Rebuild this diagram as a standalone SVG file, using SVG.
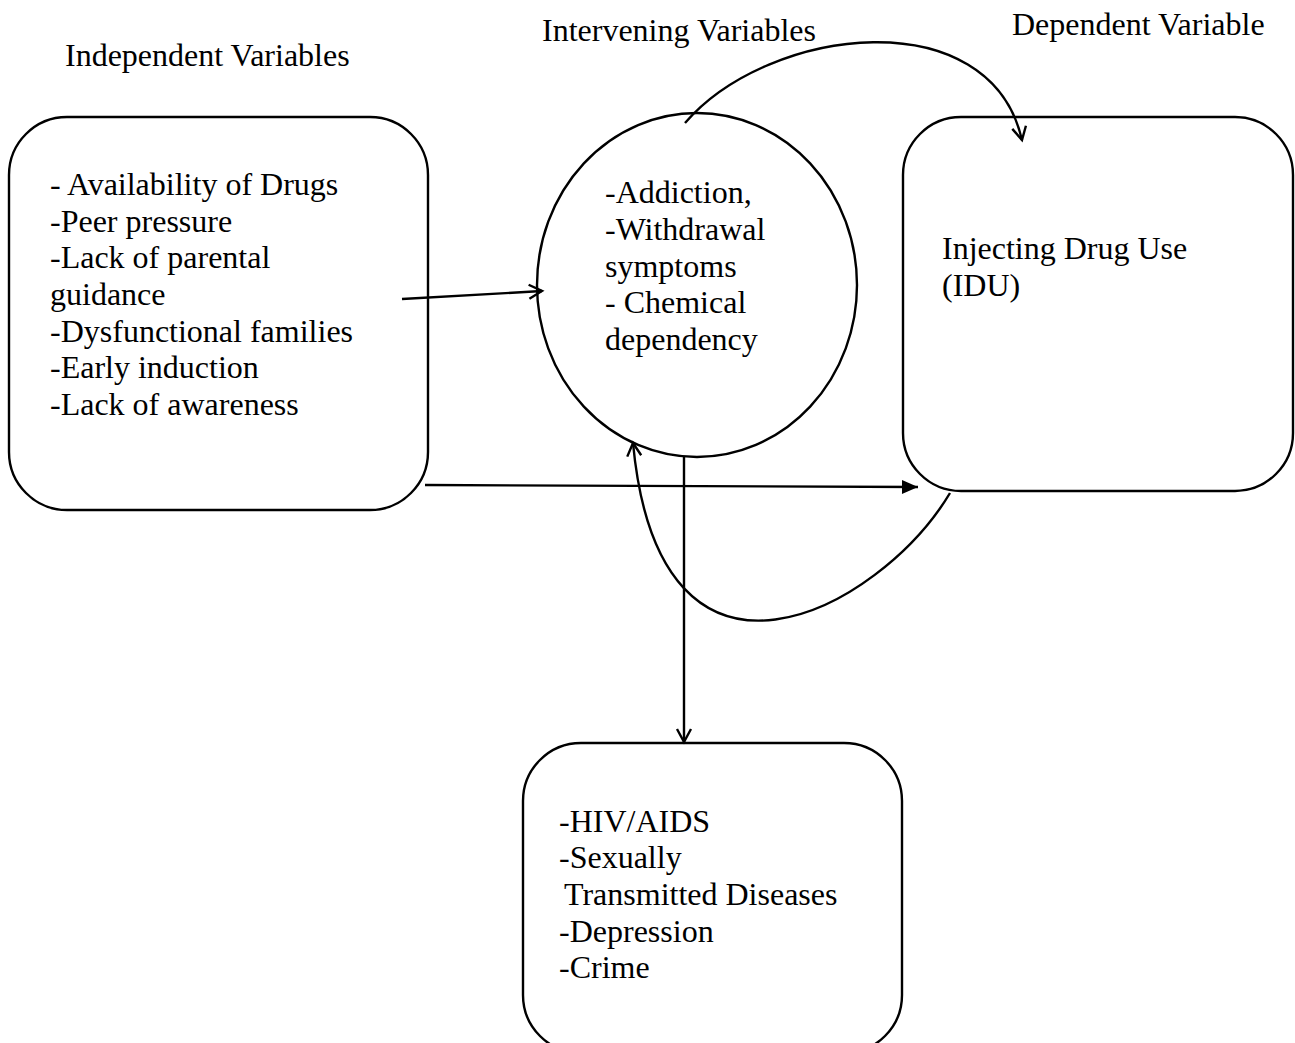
<svg xmlns="http://www.w3.org/2000/svg" width="1295" height="1043" viewBox="0 0 1295 1043">
<style>
  .t { font-family: "Liberation Serif", "Times New Roman", serif; font-size: 32px; fill: #000; }
  .box { fill: #fff; stroke: #000; stroke-width: 2.4; }
  .c { fill: none; stroke: #000; stroke-width: 2.4; }
</style>
<defs>
  <marker id="open" markerUnits="userSpaceOnUse" markerWidth="24" markerHeight="24" viewBox="-16 -12 20 24" refX="0" refY="0" orient="auto" overflow="visible">
    <path d="M-13,-7 L0,0 L-13,7" fill="none" stroke="#000" stroke-width="2.4"/>
  </marker>
  <marker id="filled" markerUnits="userSpaceOnUse" markerWidth="24" markerHeight="24" viewBox="-18 -12 20 24" refX="0" refY="0" orient="auto" overflow="visible">
    <path d="M-16,-7 L0,0 L-16,7 Z" fill="#000"/>
  </marker>
</defs>
<rect width="1295" height="1043" fill="#fff"/>

<g id="headers">
  <text class="t" x="65" y="66">Independent Variables</text>
  <text class="t" x="542" y="41">Intervening Variables</text>
  <text class="t" x="1012" y="35">Dependent Variable</text>
</g>

<g id="independent">
  <rect class="box" x="9" y="117" width="419" height="393" rx="58" ry="58"/>
  <text class="t" x="50" y="195">- Availability of Drugs</text>
  <text class="t" x="50" y="232">-Peer pressure</text>
  <text class="t" x="50" y="268">-Lack of parental</text>
  <text class="t" x="50" y="305">guidance</text>
  <text class="t" x="50" y="342">-Dysfunctional families</text>
  <text class="t" x="50" y="378">-Early induction</text>
  <text class="t" x="50" y="415">-Lack of awareness</text>
</g>

<g id="intervening">
  <ellipse class="box" cx="697" cy="285" rx="160" ry="172"/>
  <text class="t" x="605" y="203">-Addiction,</text>
  <text class="t" x="605" y="240">-Withdrawal</text>
  <text class="t" x="605" y="277">symptoms</text>
  <text class="t" x="605" y="313">- Chemical</text>
  <text class="t" x="605" y="350">dependency</text>
</g>

<g id="dependent">
  <rect class="box" x="903" y="117" width="390" height="374" rx="58" ry="58"/>
  <text class="t" x="942" y="259">Injecting Drug Use</text>
  <text class="t" x="942" y="296">(IDU)</text>
</g>

<g id="outcomes">
  <rect class="box" x="523" y="743" width="379" height="310" rx="58" ry="58"/>
  <text class="t" x="559" y="832">-HIV/AIDS</text>
  <text class="t" x="559" y="868">-Sexually</text>
  <text class="t" x="564" y="905">Transmitted Diseases</text>
  <text class="t" x="559" y="942">-Depression</text>
  <text class="t" x="559" y="978">-Crime</text>
</g>

<g id="connectors">
  <path class="c" d="M685,123 C770,25 990,0 1022,140" marker-end="url(#open)"/>
  <path class="c" d="M402,299 L542,291" marker-end="url(#open)"/>
  <path class="c" d="M425,485 L918,487" marker-end="url(#filled)"/>
  <path class="c" d="M684,457 L684,742" marker-end="url(#open)"/>
  <path class="c" d="M950,493 C880,610 660,730 633,443" marker-end="url(#open)"/>
</g>
</svg>
